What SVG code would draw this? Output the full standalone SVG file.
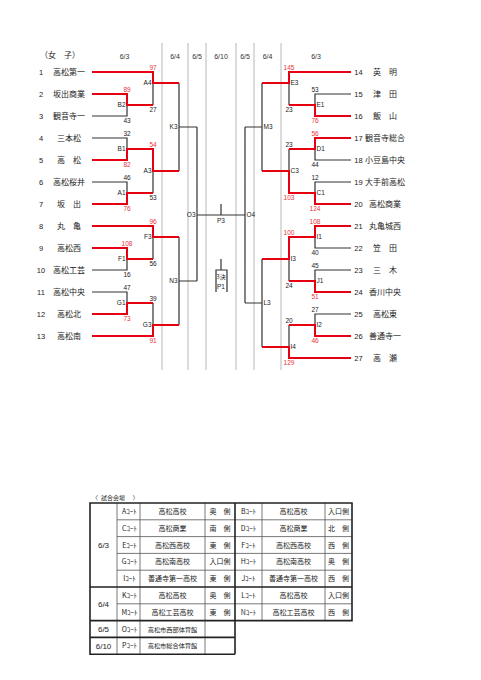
<svg xmlns="http://www.w3.org/2000/svg" width="481" height="680" viewBox="0 0 481 680">
<style>
.k{stroke:#333;stroke-width:1.2;fill:none}
.r{stroke:#e60012;stroke-width:2;fill:none}
.g{stroke:#b8b8b8;stroke-width:1}
.nm{font-family:"Noto Sans CJK JP",sans-serif;font-size:8px;text-anchor:middle;fill:#222}
.no{font-family:"Liberation Sans",sans-serif;font-size:7.5px;text-anchor:middle;fill:#222}
.dt{font-family:"Liberation Sans",sans-serif;font-size:7px;text-anchor:middle;fill:#333}
.lb{font-family:"Liberation Sans",sans-serif;font-size:6.5px;fill:#222}
.le{text-anchor:end}
.sc{font-family:"Liberation Sans",sans-serif;font-size:6.5px;text-anchor:middle;fill:#222}
.sr{fill:#e8333c}
.tt{font-family:"Noto Sans CJK JP",sans-serif;font-size:7px;text-anchor:middle;fill:#222}
.td{font-family:"Liberation Sans",sans-serif;font-size:8px;text-anchor:middle;fill:#222}
.tn{stroke:#555;stroke-width:0.8;fill:none}
.tk{stroke:#222;stroke-width:1.6;fill:none}
</style>
<rect width="481" height="680" fill="#fff"/>
<g id="grid">
<line class="g" x1="162" y1="43" x2="162" y2="370"/>
<line class="g" x1="188" y1="43" x2="188" y2="370"/>
<line class="g" x1="206" y1="43" x2="206" y2="370"/>
<line class="g" x1="236" y1="43" x2="236" y2="370"/>
<line class="g" x1="254" y1="43" x2="254" y2="370"/>
<line class="g" x1="281" y1="43" x2="281" y2="370"/>
</g>
<g id="header">
<text class="nm" x="60" y="58">（女　子）</text>
<text class="dt" x="124.5" y="58.5">6/3</text>
<text class="dt" x="175" y="58.5">6/4</text>
<text class="dt" x="197" y="58.5">6/5</text>
<text class="dt" x="221" y="58.5">6/10</text>
<text class="dt" x="245" y="58.5">6/5</text>
<text class="dt" x="267.5" y="58.5">6/4</text>
<text class="dt" x="316" y="58.5">6/3</text>
</g>
<g id="connectors">
<path class="k" d="M92,116H127V105M92,138H127V149M153,83V105M92,182H127V193M153,171V193M153,237V259M92,270H127V259M92,292H127V303M153,303V325M179,83V171M179,127H197M179,237V325M179,281H197M197,127V281M197,215H245M245,127V303M245,127H262M262,83V171M245,303H262M262,259V347"/>
<path class="k" d="M351,94H315V105M289,83V105M351,160H315V149M289,149V171M351,182H315V193M351,248H315V237M289,259V281M351,270H315V281M351,314H315V325M289,325V347"/>
<path class="k" d="M221,204V215M221,259V270M216,292V270H227V292"/>
<path class="r" d="M92,72H153V83H179M92,94H127V105H153M92,160H127V149H153V171H179M92,204H127V193H153M92,226H153V237H179M92,248H127V259H153M92,314H127V303H153M92,336H153V325H179"/>
<path class="r" d="M351,72H289V83H262M351,116H315V105H289M351,138H315V149H289M351,204H315V193H289V171H262M351,226H315V237H289V259H262M351,292H315V281H289M351,336H315V325H289M351,358H289V347H262"/>
</g>
<g id="team-1"><text class="no" x="41" y="74.8">1</text><text class="nm" x="69" y="74.8">高松第一</text></g>
<g id="team-2"><text class="no" x="41" y="96.8">2</text><text class="nm" x="69" y="96.8">坂出商業</text></g>
<g id="team-3"><text class="no" x="41" y="118.8">3</text><text class="nm" x="69" y="118.8">観音寺一</text></g>
<g id="team-4"><text class="no" x="41" y="140.8">4</text><text class="nm" x="69" y="140.8">三本松</text></g>
<g id="team-5"><text class="no" x="41" y="162.8">5</text><text class="nm" x="69" y="162.8">高　松</text></g>
<g id="team-6"><text class="no" x="41" y="184.8">6</text><text class="nm" x="69" y="184.8">高松桜井</text></g>
<g id="team-7"><text class="no" x="41" y="206.8">7</text><text class="nm" x="69" y="206.8">坂　出</text></g>
<g id="team-8"><text class="no" x="41" y="228.8">8</text><text class="nm" x="69" y="228.8">丸　亀</text></g>
<g id="team-9"><text class="no" x="41" y="250.8">9</text><text class="nm" x="69" y="250.8">高松西</text></g>
<g id="team-10"><text class="no" x="41" y="272.8">10</text><text class="nm" x="69" y="272.8">高松工芸</text></g>
<g id="team-11"><text class="no" x="41" y="294.8">11</text><text class="nm" x="69" y="294.8">高松中央</text></g>
<g id="team-12"><text class="no" x="41" y="316.8">12</text><text class="nm" x="69" y="316.8">高松北</text></g>
<g id="team-13"><text class="no" x="41" y="338.8">13</text><text class="nm" x="69" y="338.8">高松南</text></g>
<g id="team-14"><text class="no" x="358.5" y="74.8">14</text><text class="nm" x="385" y="74.8">英　明</text></g>
<g id="team-15"><text class="no" x="358.5" y="96.8">15</text><text class="nm" x="385" y="96.8">津　田</text></g>
<g id="team-16"><text class="no" x="358.5" y="118.8">16</text><text class="nm" x="385" y="118.8">飯　山</text></g>
<g id="team-17"><text class="no" x="358.5" y="140.8">17</text><text class="nm" x="385" y="140.8">観音寺総合</text></g>
<g id="team-18"><text class="no" x="358.5" y="162.8">18</text><text class="nm" x="385" y="162.8">小豆島中央</text></g>
<g id="team-19"><text class="no" x="358.5" y="184.8">19</text><text class="nm" x="385" y="184.8">大手前高松</text></g>
<g id="team-20"><text class="no" x="358.5" y="206.8">20</text><text class="nm" x="385" y="206.8">高松商業</text></g>
<g id="team-21"><text class="no" x="358.5" y="228.8">21</text><text class="nm" x="385" y="228.8">丸亀城西</text></g>
<g id="team-22"><text class="no" x="358.5" y="250.8">22</text><text class="nm" x="385" y="250.8">笠　田</text></g>
<g id="team-23"><text class="no" x="358.5" y="272.8">23</text><text class="nm" x="385" y="272.8">三　木</text></g>
<g id="team-24"><text class="no" x="358.5" y="294.8">24</text><text class="nm" x="385" y="294.8">香川中央</text></g>
<g id="team-25"><text class="no" x="358.5" y="316.8">25</text><text class="nm" x="385" y="316.8">高松東</text></g>
<g id="team-26"><text class="no" x="358.5" y="338.8">26</text><text class="nm" x="385" y="338.8">善通寺一</text></g>
<g id="team-27"><text class="no" x="358.5" y="360.8">27</text><text class="nm" x="385" y="360.8">高　瀬</text></g>
<g id="match-B2"><text class="lb le" x="125.5" y="107.3">B2</text><text class="sc sr" x="127" y="92">89</text><text class="sc" x="127" y="123">43</text></g>
<g id="match-B1"><text class="lb le" x="125.5" y="151.3">B1</text><text class="sc" x="127" y="136">32</text><text class="sc sr" x="127" y="167">82</text></g>
<g id="match-A1"><text class="lb le" x="125.5" y="195.3">A1</text><text class="sc" x="127" y="180">46</text><text class="sc sr" x="127" y="211">76</text></g>
<g id="match-F1"><text class="lb le" x="125.5" y="261.3">F1</text><text class="sc sr" x="127" y="246">108</text><text class="sc" x="127" y="277">16</text></g>
<g id="match-G1"><text class="lb le" x="125.5" y="305.3">G1</text><text class="sc" x="127" y="290">47</text><text class="sc sr" x="127" y="321">73</text></g>
<g id="match-A4"><text class="lb le" x="151.5" y="85.3">A4</text><text class="sc sr" x="153" y="70">97</text><text class="sc" x="153" y="112">27</text></g>
<g id="match-A3"><text class="lb le" x="151.5" y="173.3">A3</text><text class="sc sr" x="153" y="147">54</text><text class="sc" x="153" y="200">53</text></g>
<g id="match-F3"><text class="lb le" x="151.5" y="239.3">F3</text><text class="sc sr" x="153" y="224">96</text><text class="sc" x="153" y="266">56</text></g>
<g id="match-G3"><text class="lb le" x="151.5" y="327.3">G3</text><text class="sc" x="153" y="301">39</text><text class="sc sr" x="153" y="343">91</text></g>
<g id="match-K3"><text class="lb le" x="177.5" y="129.3">K3</text></g>
<g id="match-N3"><text class="lb le" x="177.5" y="283.3">N3</text></g>
<g id="match-O3"><text class="lb le" x="195.5" y="217.3">O3</text></g>
<g id="match-P3"><text class="sc" x="221" y="222.5">P3</text></g>
<g id="match-P1"><text class="tt" x="221" y="278.5" style="font-size:6px">3決</text><text class="sc" x="221" y="289">P1</text></g>
<g id="match-O4"><text class="lb" x="246.5" y="217.3">O4</text></g>
<g id="match-M3"><text class="lb" x="263.5" y="129.3">M3</text></g>
<g id="match-L3"><text class="lb" x="263.5" y="305.3">L3</text></g>
<g id="match-E3"><text class="lb" x="290.5" y="85.3">E3</text><text class="sc sr" x="289" y="70">145</text><text class="sc" x="289" y="112">23</text></g>
<g id="match-C3"><text class="lb" x="290.5" y="173.3">C3</text><text class="sc" x="289" y="147">23</text><text class="sc sr" x="289" y="200">103</text></g>
<g id="match-I3"><text class="lb" x="290.5" y="261.3">I3</text><text class="sc sr" x="289" y="235">100</text><text class="sc" x="289" y="288">24</text></g>
<g id="match-I4"><text class="lb" x="290.5" y="349.3">I4</text><text class="sc" x="289" y="323">20</text><text class="sc sr" x="289" y="365">129</text></g>
<g id="match-E1"><text class="lb" x="316.5" y="107.3">E1</text><text class="sc" x="315" y="92">53</text><text class="sc sr" x="315" y="123">76</text></g>
<g id="match-D1"><text class="lb" x="316.5" y="151.3">D1</text><text class="sc sr" x="315" y="136">56</text><text class="sc" x="315" y="167">44</text></g>
<g id="match-C1"><text class="lb" x="316.5" y="195.3">C1</text><text class="sc" x="315" y="180">12</text><text class="sc sr" x="315" y="211">124</text></g>
<g id="match-I1"><text class="lb" x="316.5" y="239.3">I1</text><text class="sc sr" x="315" y="224">108</text><text class="sc" x="315" y="255">40</text></g>
<g id="match-J1"><text class="lb" x="316.5" y="283.3">J1</text><text class="sc" x="315" y="268">45</text><text class="sc sr" x="315" y="299">51</text></g>
<g id="match-I2"><text class="lb" x="316.5" y="327.3">I2</text><text class="sc" x="315" y="312">27</text><text class="sc sr" x="315" y="343">46</text></g>
<g id="venue-table">
<text class="tt" x="92" y="500" style="text-anchor:start;font-size:6px">〈</text>
<text class="tt" x="113" y="500" style="font-size:6px">試合会場</text>
<text class="tt" x="138.5" y="500" style="text-anchor:end;font-size:6px">〉</text>
<path class="tn" d="M117,519.8H352M117,536.6H352M117,553.4H352M117,570.2H352M117,603.8H352M117,503V654.2M140,503V654.2M205,503V654.2M262,503V620.6M325,503V620.6"/>
<path class="tk" d="M90,503H352V620.6H90ZM90,587H352M235,503V654.2M90,620.6V654.2H235M90,637.4H235"/>
<text class="td" x="103.5" y="547.8">6/3</text>
<text class="td" x="103.5" y="606.6">6/4</text>
<text class="td" x="103.5" y="631.8">6/5</text>
<text class="td" x="103.5" y="648.6">6/10</text>
<text class="tt" x="129.5" y="513.9">Aｺｰﾄ</text><text class="tt" x="172.5" y="513.9">高松高校</text><text class="tt" x="220" y="513.9">奥　側</text>
<text class="tt" x="248.5" y="513.9">Bｺｰﾄ</text><text class="tt" x="293.5" y="513.9">高松高校</text><text class="tt" x="338.5" y="513.9">入口側</text>
<text class="tt" x="129.5" y="530.7">Cｺｰﾄ</text><text class="tt" x="172.5" y="530.7">高松商業</text><text class="tt" x="220" y="530.7">南　側</text>
<text class="tt" x="248.5" y="530.7">Dｺｰﾄ</text><text class="tt" x="293.5" y="530.7">高松商業</text><text class="tt" x="338.5" y="530.7">北　側</text>
<text class="tt" x="129.5" y="547.5">Eｺｰﾄ</text><text class="tt" x="172.5" y="547.5">高松西高校</text><text class="tt" x="220" y="547.5">東　側</text>
<text class="tt" x="248.5" y="547.5">Fｺｰﾄ</text><text class="tt" x="293.5" y="547.5">高松西高校</text><text class="tt" x="338.5" y="547.5">西　側</text>
<text class="tt" x="129.5" y="564.3">Gｺｰﾄ</text><text class="tt" x="172.5" y="564.3">高松南高校</text><text class="tt" x="220" y="564.3">入口側</text>
<text class="tt" x="248.5" y="564.3">Hｺｰﾄ</text><text class="tt" x="293.5" y="564.3">高松南高校</text><text class="tt" x="338.5" y="564.3">奥　側</text>
<text class="tt" x="129.5" y="581.1">Iｺｰﾄ</text><text class="tt" x="172.5" y="581.1">善通寺第一高校</text><text class="tt" x="220" y="581.1">東　側</text>
<text class="tt" x="248.5" y="581.1">Jｺｰﾄ</text><text class="tt" x="293.5" y="581.1">善通寺第一高校</text><text class="tt" x="338.5" y="581.1">西　側</text>
<text class="tt" x="129.5" y="597.9">Kｺｰﾄ</text><text class="tt" x="172.5" y="597.9">高松高校</text><text class="tt" x="220" y="597.9">奥　側</text>
<text class="tt" x="248.5" y="597.9">Lｺｰﾄ</text><text class="tt" x="293.5" y="597.9">高松高校</text><text class="tt" x="338.5" y="597.9">入口側</text>
<text class="tt" x="129.5" y="614.7">Mｺｰﾄ</text><text class="tt" x="172.5" y="614.7">高松工芸高校</text><text class="tt" x="220" y="614.7">東　側</text>
<text class="tt" x="248.5" y="614.7">Nｺｰﾄ</text><text class="tt" x="293.5" y="614.7">高松工芸高校</text><text class="tt" x="338.5" y="614.7">西　側</text>
<text class="tt" x="129.5" y="631.5">Oｺｰﾄ</text><text class="tt" x="172.5" y="631.5" style="font-size:6.2px">高松市西部体育館</text>
<text class="tt" x="129.5" y="648.3">Pｺｰﾄ</text><text class="tt" x="172.5" y="648.3" style="font-size:6.2px">高松市総合体育館</text>
</g>
</svg>
